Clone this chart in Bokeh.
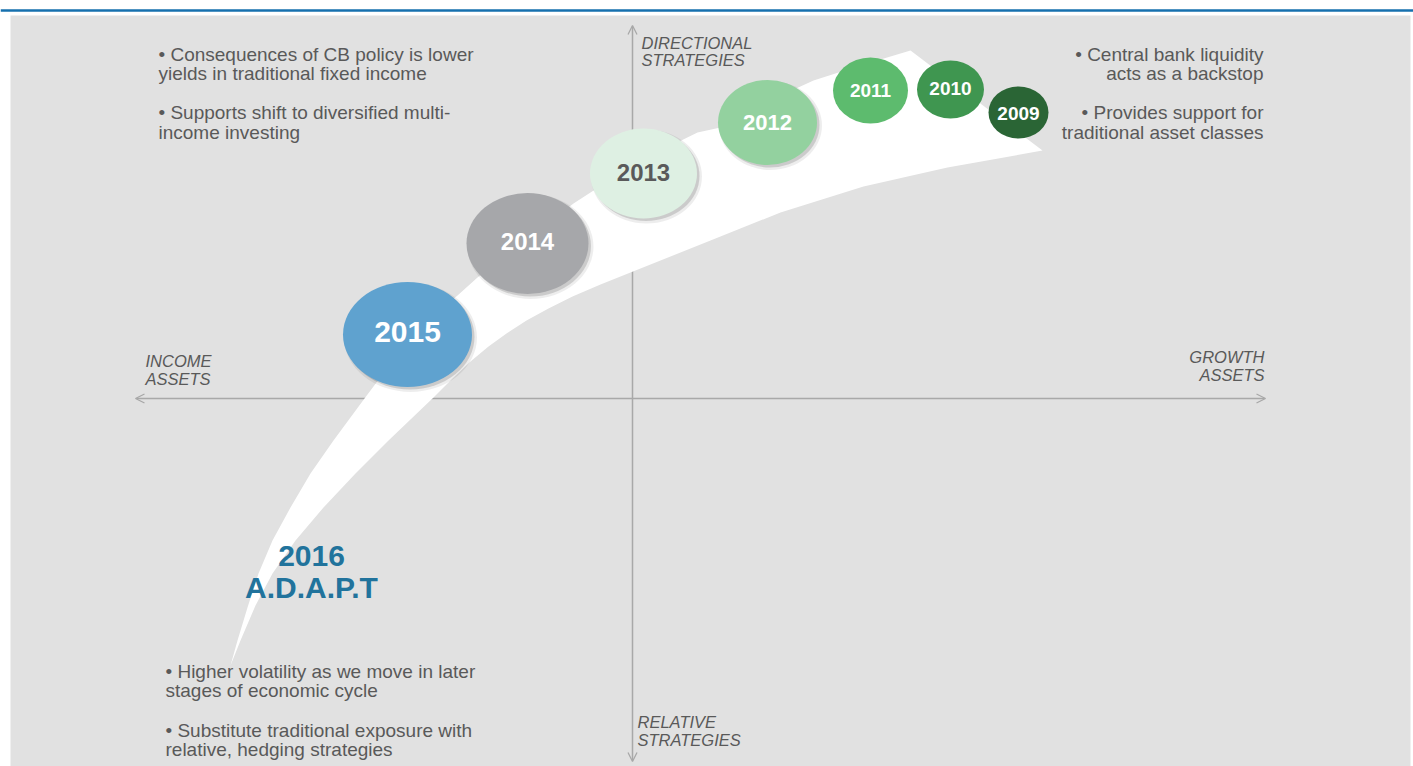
from bokeh.plotting import figure
from bokeh.models import Range1d, Arrow, OpenHead, ColumnDataSource
from bokeh.core.properties import value
from bokeh.embed import file_html
from bokeh.resources import INLINE

# ---- bubbles (year stages) ----
years = ["2015", "2014", "2013", "2012", "2011", "2010", "2009"]
bubble_x = [407, 527, 643, 767, 870, 950, 1018]
bubble_y = [334, 243, 173, 122, 90, 89, 112]
bubble_w = [129, 122, 107, 99, 75, 67, 60]
bubble_h = [105, 101, 90, 85, 66, 58, 52]
bubble_colors = ["#5FA2CF", "#A6A7AA", "#DEF0E3", "#93D19F", "#5DBB6E", "#3F9650", "#2A6535"]
label_colors = ["#FFFFFF", "#FFFFFF", "#5A5A5A", "#FFFFFF", "#FFFFFF", "#FFFFFF", "#FFFFFF"]
label_sizes = ["30px", "24px", "24px", "22px", "19px", "19px", "19px"]
label_y = [331, 241, 172, 122, 90, 88, 113]
has_shadow = [True, True, True, True, False, False, False]

# ---- white swoosh outline ----
band_upper_x = [230, 237, 247, 258, 272, 290, 310, 333, 364, 400, 430, 457, 477, 530, 573, 590, 640, 697, 720, 765, 813, 860, 910]
band_upper_y = [665, 640, 607, 573, 540, 507, 473, 440, 398, 350, 318, 295, 277, 236, 203, 192, 160, 132, 127, 102, 80, 65, 50]
band_lower_x = [1042, 947, 863, 780, 710, 640, 600, 572, 548, 526, 506, 488, 470, 452, 433, 388, 355, 323, 295, 272, 255, 240, 230]
band_lower_y = [150, 167, 186, 212, 240, 268, 284, 296, 308, 320, 333, 346, 361, 378, 397, 440, 473, 507, 540, 573, 605, 640, 665]

# ---- texts ----
bullet_left_text = ["• Consequences of CB policy is lower", "yields in traditional fixed income",
                    "• Supports shift to diversified multi-", "income investing",
                    "• Higher volatility as we move in later", "stages of economic cycle",
                    "• Substitute traditional exposure with", "relative, hedging strategies"]
bullet_left_x = [158, 158, 158, 158, 165, 165, 165, 165]
bullet_left_y = [54, 73, 112, 132, 671, 690, 730, 749]

bullet_right_text = ["• Central bank liquidity", "acts as a backstop",
                     "• Provides support for", "traditional asset classes"]
bullet_right_x = [1263, 1263, 1263, 1263]
bullet_right_y = [54, 73, 112, 132]

axis_left_text = ["DIRECTIONAL", "STRATEGIES", "INCOME", "ASSETS", "RELATIVE", "STRATEGIES"]
axis_left_x = [641, 641, 145, 145, 637, 637]
axis_left_y = [42, 59, 360, 378, 721, 739]
axis_right_text = ["GROWTH", "ASSETS"]
axis_right_x = [1264, 1264]
axis_right_y = [356, 374]

title_text = ["2016", "A.D.A.P.T"]
title_x = [311, 311]
title_y = [555, 587]

GRAY_TXT = "#595959"
AXIS_COL = "#A8A8A8"
FONT = "Liberation Sans"

p = figure(width=1413, height=766, x_range=Range1d(0, 1413), y_range=Range1d(766, 0),
           output_backend="svg", toolbar_location=None, min_border=0,
           x_axis_type=None, y_axis_type=None)
p.grid.visible = False
p.outline_line_color = None
p.background_fill_color = "#FFFFFF"
p.border_fill_color = "#FFFFFF"

# background panel
panel = p.quad(left=[10], right=[1410], top=[15], bottom=[766], fill_color="#E1E1E1", line_color=None)
panel.level = "image"
topline = p.segment(x0=[0], x1=[1413], y0=[10], y1=[10], line_color="#1670AE", line_width=2.5)
topline.level = "image"

# axes with open arrowheads
v_axis = Arrow(start=OpenHead(size=9, line_color=AXIS_COL, line_width=1.3),
               end=OpenHead(size=9, line_color=AXIS_COL, line_width=1.3),
               x_start=632, y_start=761, x_end=632, y_end=25,
               line_color=AXIS_COL, line_width=1.5, level="underlay")
h_axis = Arrow(start=OpenHead(size=9, line_color=AXIS_COL, line_width=1.3),
               end=OpenHead(size=9, line_color=AXIS_COL, line_width=1.3),
               x_start=135, y_start=398, x_end=1265, y_end=398,
               line_color=AXIS_COL, line_width=1.5, level="underlay")
p.add_layout(v_axis)
p.add_layout(h_axis)

# white swoosh
p.patch(band_upper_x + band_lower_x, band_upper_y + band_lower_y, fill_color="#FFFFFF", line_color=None)

# shadows
sx = [x for x, s in zip(bubble_x, has_shadow) if s]
sy = [y for y, s in zip(bubble_y, has_shadow) if s]
sw = [w for w, s in zip(bubble_w, has_shadow) if s]
sh = [h for h, s in zip(bubble_h, has_shadow) if s]
p.ellipse(x=[x + 3 for x in sx], y=[y + 3 for y in sy], width=[w + 4 for w in sw], height=[h + 4 for h in sh],
          fill_color="#000000", fill_alpha=0.07, line_color=None)
p.ellipse(x=[x + 2.5 for x in sx], y=[y + 2.5 for y in sy], width=sw, height=sh,
          fill_color="#000000", fill_alpha=0.14, line_color=None)

# bubbles
bsrc = ColumnDataSource(dict(x=bubble_x, y=bubble_y, w=bubble_w, h=bubble_h, c=bubble_colors,
                             t=years, tc=label_colors, ts=label_sizes, ty=label_y))
p.ellipse(x="x", y="y", width="w", height="h", fill_color="c", line_color=None, source=bsrc)
p.text(x="x", y="ty", text="t", text_color="tc", text_font_size="ts", text_font=value(FONT),
       text_font_style="bold", text_align="center", text_baseline="middle", source=bsrc)

# bullet texts
p.text(x=bullet_left_x, y=bullet_left_y, text=bullet_left_text, text_color=GRAY_TXT,
       text_font=value(FONT), text_font_size=value("19px"), text_align="left", text_baseline="middle")
p.text(x=bullet_right_x, y=bullet_right_y, text=bullet_right_text, text_color=GRAY_TXT,
       text_font=value(FONT), text_font_size=value("19px"), text_align="right", text_baseline="middle")

# axis labels
p.text(x=axis_left_x, y=axis_left_y, text=axis_left_text, text_color=GRAY_TXT,
       text_font=value(FONT), text_font_size=value("16.5px"), text_font_style="italic",
       text_align="left", text_baseline="middle")
p.text(x=axis_right_x, y=axis_right_y, text=axis_right_text, text_color=GRAY_TXT,
       text_font=value(FONT), text_font_size=value("16.5px"), text_font_style="italic",
       text_align="right", text_baseline="middle")

# title
p.text(x=title_x, y=title_y, text=title_text, text_color="#21739C",
       text_font=value(FONT), text_font_size=value("30px"), text_font_style="bold",
       text_align="center", text_baseline="middle")

open("out.html", "w").write(file_html(p, INLINE))
